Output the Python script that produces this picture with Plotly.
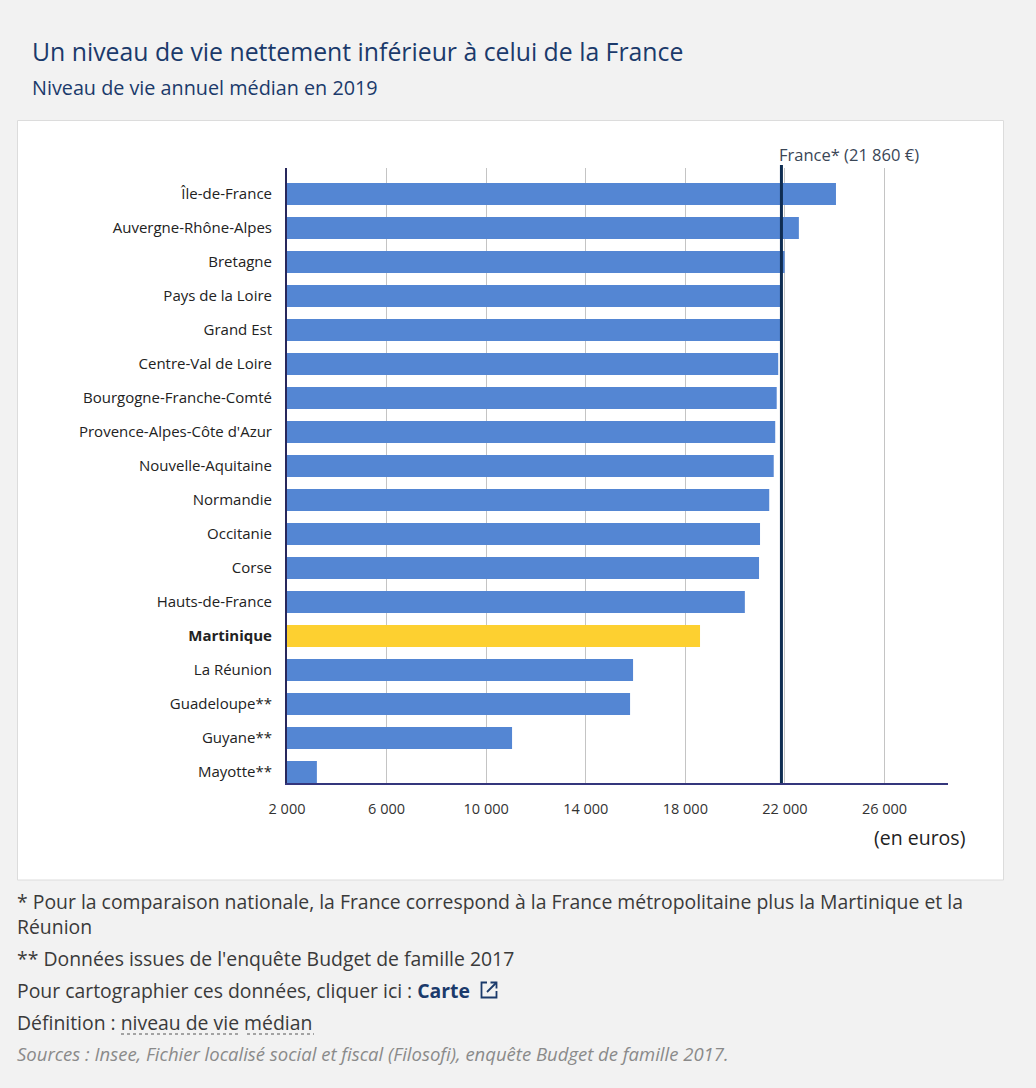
import plotly.graph_objects as go

# ---------------- data ----------------
regions = ["Île-de-France", "Auvergne-Rhône-Alpes", "Bretagne", "Pays de la Loire",
           "Grand Est", "Centre-Val de Loire", "Bourgogne-Franche-Comté",
           "Provence-Alpes-Côte d'Azur", "Nouvelle-Aquitaine", "Normandie",
           "Occitanie", "Corse", "Hauts-de-France", "Martinique", "La Réunion",
           "Guadeloupe**", "Guyane**", "Mayotte**"]
values = [24050, 22560, 21990, 21880, 21830, 21730, 21670, 21610, 21550, 21370,
          21000, 20960, 20390, 18590, 15900, 15780, 11040, 3200]
highlight = "Martinique"
france_value = 21860
france_label = "France* (21 860 €)"
x_ticks = [2000, 6000, 10000, 14000, 18000, 22000, 26000]
x_range = [2000, 28550]

title = "Un niveau de vie nettement inférieur à celui de la France"
subtitle = "Niveau de vie annuel médian en 2019"
unit_label = "(en euros)"
notes = [
    "* Pour la comparaison nationale, la France correspond à la France métropolitaine plus la Martinique et la",
    "Réunion",
    "** Données issues de l'enquête Budget de famille 2017",
]

# ---------------- geometry helpers ----------------
W, H = 1036, 1088
L, R, T, B = 287, 948, 168, 783

def xp(px):
    return (px - L) / (R - L)

def yp(py):
    return (B - py) / (B - T)

BLUE = "#5486d3"
YELLOW = "#fdd030"
NAVY = "#1b3a6b"
FONT = "Open Sans"

colors = [YELLOW if r == highlight else BLUE for r in regions]
ticktext = [f"<b>{r}</b>" if r == highlight else r for r in regions]

fig = go.Figure()
fig.add_trace(go.Bar(
    x=values, y=regions, orientation="h",
    marker=dict(color=colors, line=dict(width=0)),
    hoverinfo="x+y", showlegend=False,
))

n = len(regions)
fig.update_layout(
    width=W, height=H,
    margin=dict(l=L, r=W - R, t=T, b=H - B, pad=0),
    paper_bgcolor="#f2f2f2",
    plot_bgcolor="white",
    bargap=0.353,
    separators=", ",
    font=dict(family=FONT, color="#333333"),
    xaxis=dict(
        range=x_range, tickvals=x_ticks, tickformat=",d",
        showgrid=True, gridcolor="#c4c4c4", gridwidth=1,
        showline=True, linecolor="#34367c", linewidth=2,
        zeroline=False, ticks="", ticklabelstandoff=12,
        tickfont=dict(size=14.5, color="#333333", family=FONT),
    ),
    yaxis=dict(
        type="category", categoryarray=regions, categoryorder="array",
        range=[n - 1 + 0.324, -0.765],
        tickvals=regions, ticktext=ticktext,
        showgrid=False, showline=True, linecolor="#28285c", linewidth=2,
        zeroline=False, ticks="", ticklabelstandoff=10,
        tickfont=dict(size=15, color="#222222", family=FONT),
    ),
)

shapes = []
# white panel
shapes.append(dict(type="rect", xref="paper", yref="paper",
                   x0=xp(17.5), x1=xp(1003.5), y0=yp(880), y1=yp(120.5),
                   fillcolor="white", line=dict(color="#dcdcdc", width=1),
                   layer="below"))
# France reference line
shapes.append(dict(type="line", xref="x", yref="paper",
                   x0=france_value, x1=france_value, y0=0, y1=yp(165),
                   line=dict(color="#0f2d52", width=3), layer="above"))
# dotted underlines for definition links
shapes.append(dict(type="line", xref="paper", yref="paper",
                   x0=xp(121), x1=xp(241), y0=yp(1034), y1=yp(1034),
                   line=dict(color="#555555", width=1, dash="dot")))
shapes.append(dict(type="line", xref="paper", yref="paper",
                   x0=xp(247), x1=xp(314), y0=yp(1034), y1=yp(1034),
                   line=dict(color="#555555", width=1, dash="dot")))
# external link icon
def path(points):
    return "M " + " L ".join(f"{xp(a):.5f},{yp(b):.5f}" for a, b in points)
shapes.append(dict(type="path", xref="paper", yref="paper",
                   path=path([(487, 982.5), (481.5, 982.5), (481.5, 997.5), (496.5, 997.5), (496.5, 991)]),
                   line=dict(color=NAVY, width=1.8)))
shapes.append(dict(type="path", xref="paper", yref="paper",
                   path=path([(487, 992), (496.5, 982.5)]),
                   line=dict(color=NAVY, width=1.8)))
shapes.append(dict(type="path", xref="paper", yref="paper",
                   path=path([(490.5, 982.5), (496.5, 982.5), (496.5, 988.5)]),
                   line=dict(color=NAVY, width=1.8)))
fig.update_layout(shapes=shapes)

ann = []
def text(px, py, s, size, color="#333333", anchor="left", family=FONT):
    ann.append(dict(xref="paper", yref="paper", x=xp(px), y=yp(py), text=s,
                    showarrow=False, xanchor=anchor, yanchor="middle",
                    font=dict(size=size, color=color, family=family)))

text(30, 51, title, 24.8, NAVY)
text(30, 88, subtitle, 19.8, NAVY)
ann.append(dict(xref="x", yref="paper", x=france_value, y=yp(155), text=france_label,
                showarrow=False, xanchor="left", yanchor="middle", xshift=-4,
                font=dict(size=16.5, color="#3a4656", family=FONT)))
text(967, 837, unit_label, 19.5, "#222222", anchor="right")
text(15, 902, notes[0], 19.4, "#3a3a3a")
text(15, 926, notes[1], 19.4, "#3a3a3a")
text(15, 958, notes[2], 19.4, "#3a3a3a")
text(15, 990, f"Pour cartographier ces données, cliquer ici : <b><span style='color:{NAVY}'>Carte</span></b>", 19.4, "#3a3a3a")
text(15, 1022, "Définition : niveau de vie médian", 19.4, "#3a3a3a")
text(15, 1053, "<i>Sources : Insee, Fichier localisé social et fiscal (Filosofi), enquête Budget de famille 2017.</i>", 18.5, "#8a8a8a")
fig.update_layout(annotations=ann)

fig.write_html("out.html", config={"displayModeBar": False},
               post_script="document.body.style.margin='0';document.body.style.background='#f2f2f2';")
